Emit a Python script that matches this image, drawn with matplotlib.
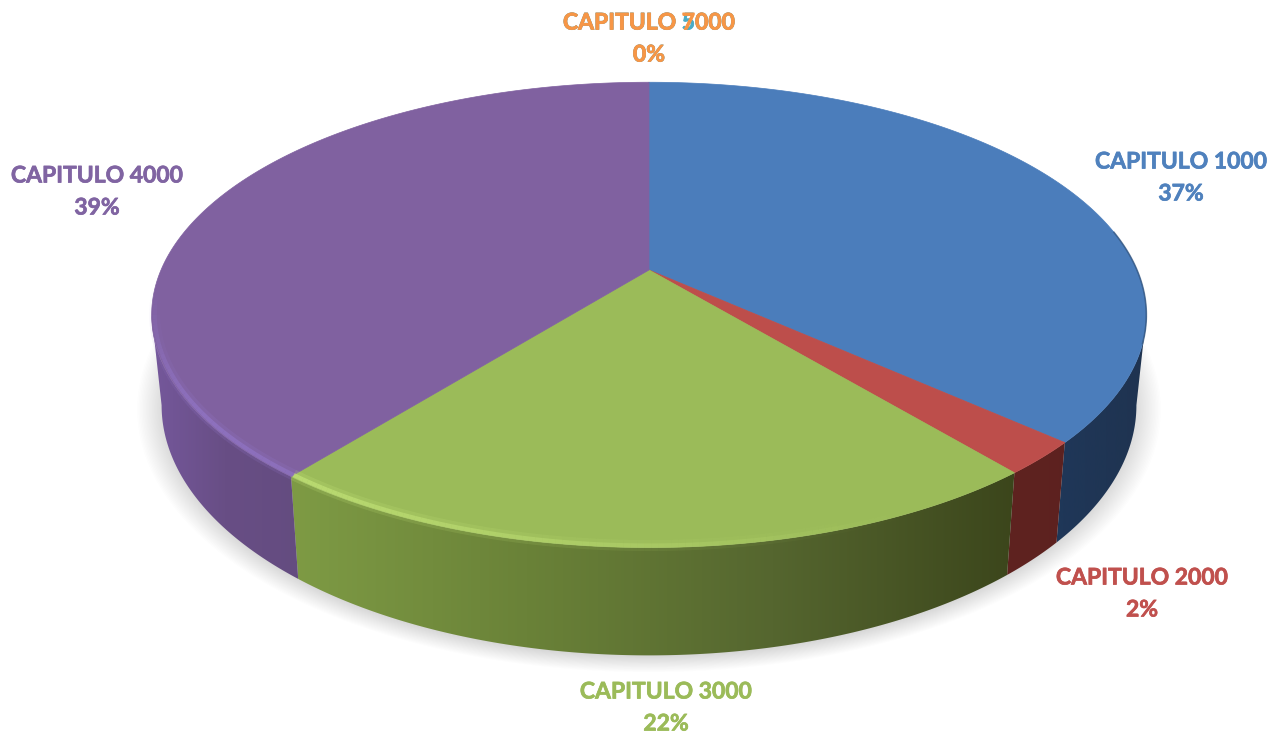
import matplotlib
matplotlib.use('Agg')
import matplotlib.pyplot as plt
import numpy as np
import matplotlib.patheffects as pe
from matplotlib.colors import LinearSegmentedColormap, to_rgb
from matplotlib.patches import Polygon

plt.rcParams['font.family'] = ['Lato', 'DejaVu Sans']

# clockwise from the top of the pie
categories = ['CAPITULO 1000', 'CAPITULO 2000', 'CAPITULO 3000', 'CAPITULO 4000']
values = [36.7, 2.3, 21.7, 39.3]
top_colors = ['#4b7dbb', '#bd4e4b', '#9bbb59', '#8061a0']
side_colors = [['#1f3a5e', '#1f3350'],
               ['#5f2320', '#5a201e'],
               ['#7f9c45', '#6a8238', '#55662f', '#3b451b'],
               ['#75589c', '#684e85', '#644c80']]
grad_ranges = [(1000, 1148), (1000, 1148), (280, 1020), (150, 300)]
rim_colors = ['#3f6ea8', '#c45a56', '#cdee80', '#9478cc']

# (label, percent text, colour, x, y)
labels = [('CAPITULO 1000', '37%', '#4f81bd', 1181, 162),
          ('CAPITULO 2000', '2%', '#c0504d', 1142, 578),
          ('CAPITULO 3000', '22%', '#9bbb59', 666, 692),
          ('CAPITULO 4000', '39%', '#8064a2', 97, 176),
          ('CAPITULO 5000', '0%', '#4bacc6', 649, 23),
          ('CAPITULO 7000', '0%', '#f79646', 649, 23)]

# perspective of the disc
cx, cy = 649, 270
k = 0.193
rx, ry = 488, 224
depth = 87
x_left, x_right = 150, 1148
# part of the wall facing the viewer
front_lo, front_hi = np.arccos(-k), 2 * np.pi - np.arccos(-k)


def top_edge(theta, r=1.0):
    X = r * np.sin(theta)
    Y = r * np.cos(theta)
    w = 1 + k * Y
    return cx + rx * X / w, cy - ry * Y / w


def bottom_edge(theta):
    x, y = top_edge(theta)
    w = 1 + k * np.cos(theta)
    return cx + 0.98 * (x - cx), y + depth / w


fig = plt.figure(figsize=(12.72, 7.34), dpi=100)
ax = fig.add_axes([0, 0, 1, 1])
ax.axis('off')

# soft shadow under the disc
full = np.linspace(0, 2 * np.pi, 361)
bx, by = bottom_edge(full)
for i in range(22):
    s = 1.05 - i * 0.003
    ax.add_patch(Polygon(np.column_stack([cx + s * (bx - cx), by.mean() + s * (by - by.mean()) + 3]),
                         closed=True, fc='#777777', ec='none', alpha=0.012, zorder=1))

edges = np.cumsum([0] + values) / sum(values) * 2 * np.pi
for i in range(len(values)):
    # side wall, gradient image clipped to the wall outline
    lo, hi = max(edges[i], front_lo), min(edges[i + 1], front_hi)
    t = np.linspace(lo, hi, 200)
    tx, ty = top_edge(t)
    bx, by = bottom_edge(t)
    wall = Polygon(np.column_stack([np.r_[tx, bx[::-1]], np.r_[ty, by[::-1]]]),
                   closed=True, fc='none', ec='none', transform=ax.transData)
    ax.add_patch(wall)
    cmap = LinearSegmentedColormap.from_list('side', side_colors[i])
    img = ax.imshow(np.linspace(0, 1, 256)[None, :], cmap=cmap, aspect='auto',
                    extent=[grad_ranges[i][0], grad_ranges[i][1], 700, 50], zorder=2)
    img.set_clip_path(wall)

    # top face
    t = np.linspace(edges[i], edges[i + 1], 200)
    tx, ty = top_edge(t)
    ax.add_patch(Polygon(np.column_stack([np.r_[cx, tx], np.r_[cy, ty]]), closed=True,
                         fc=top_colors[i], ec=top_colors[i], lw=0.5, zorder=3))

# thin dark edge on the right of the disc
t = np.linspace(np.radians(80), np.radians(108), 40)
ax.plot(*top_edge(t), color='#2b4a70', alpha=0.6, lw=1.2, zorder=4)

# bevel along the front of the rim, brightest on the left
for i in range(len(values)):
    t = np.linspace(edges[i], edges[i + 1], 120)
    rgb = np.array(to_rgb(rim_colors[i]))
    for j in range(len(t) - 1):
        if not np.pi * 0.75 < t[j] < np.pi * 1.47:
            continue
        x0, y0 = top_edge(t[j:j + 2], 0.994)
        x_pos = (x0[0] - x_left) / (x_right - x_left)
        strength = np.clip(1.0 - x_pos * 1.3, 0.0, 1.0)
        if t[j] > np.pi * 1.3:
            strength *= (np.pi * 1.47 - t[j]) / (np.pi * 0.17)
        ax.plot(x0, y0, color=rgb, alpha=0.22 * strength, lw=8, solid_capstyle='butt', zorder=4)
        ax.plot(x0, y0, color=rgb, alpha=0.65 * strength, lw=3, solid_capstyle='butt', zorder=4)

for name, pct, color, x, y in labels:
    for text, yy in ((name, y), (pct, y + 32)):
        ax.text(x, yy, text, color=color, fontsize=16.5, fontweight='bold', ha='center', va='center',
                zorder=6, path_effects=[pe.withStroke(linewidth=0.5, foreground=color)])

ax.set_xlim(0, 1272)
ax.set_ylim(734, 0)
fig.savefig('out.png', dpi=100, facecolor='white')
